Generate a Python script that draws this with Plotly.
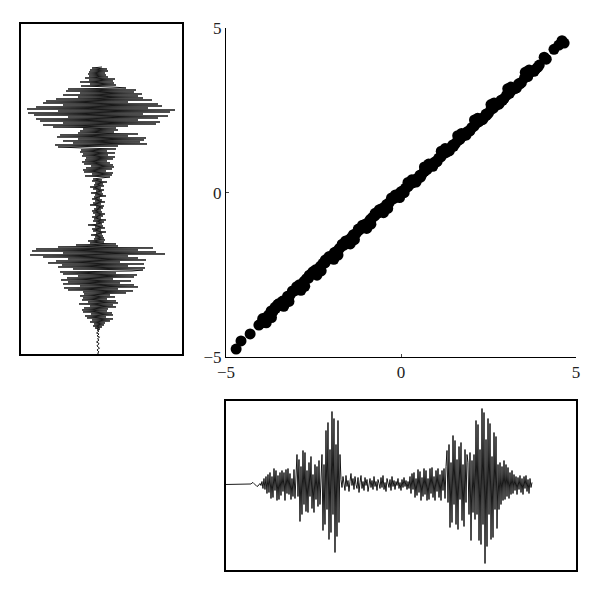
import plotly.graph_objects as go

# ---- scatter data (x vs y) ----
scatter_x = [-4.71, -4.57, -4.31, -4.06, -3.98, -3.92, -3.85, -3.78, -3.71, -3.66, -3.58, -3.52, -3.45, -3.38,
             -3.31, -3.24, -3.17, -3.10, -3.03, -2.96, -2.90, -2.84, -2.77, -2.70, -2.64, -2.57, -2.50, -2.44,
             -2.37, -2.30, -2.23, -2.17, -2.10, -2.03, -1.96, -1.90, -1.83, -1.76, -1.69, -1.63, -1.56, -1.49,
             -1.42, -1.36, -1.29, -1.22, -1.15, -1.09, -1.02, -0.95, -0.88, -0.82, -0.75, -0.68, -0.61, -0.55,
             -0.48, -0.41, -0.34, -0.28, -0.21, -0.14, -0.07, 0.00, 0.06, 0.13, 0.20, 0.27, 0.33, 0.40, 0.47,
             0.54, 0.60, 0.67, 0.74, 0.81, 0.87, 0.94, 1.01, 1.08, 1.14, 1.21, 1.28, 1.35, 1.41, 1.48, 1.55,
             1.62, 1.68, 1.75, 1.82, 1.89, 1.95, 2.02, 2.09, 2.16, 2.22, 2.29, 2.36, 2.43, 2.50, 2.57, 2.64,
             2.72, 2.79, 2.86, 2.94, 3.02, 3.10, 3.18, 3.27, 3.36, 3.44, 3.53, 3.62, 3.72, 3.83, 3.95, 4.09,
             4.15, 4.37, 4.51, 4.66, 4.60,
             -3.95, -3.70, -3.48, -3.20, -2.98, -2.75, -2.52, -2.28, -2.05, -1.80, -1.58, -1.33, -1.10, -0.86,
             -0.62, -0.38, -0.16, 0.09, 0.31, 0.56, 0.79, 1.03, 1.26, 1.50, 1.73, 1.97, 2.19, 2.44, 2.66, 2.90,
             3.14, 3.40, 3.66, 3.90,
             -3.85, -3.60, -3.35, -3.10, -2.86, -2.62, -2.40, -2.16, -1.92, -1.68, -1.45, -1.22, -0.98, -0.74,
             -0.50, -0.27, -0.04, 0.20, 0.43, 0.67, 0.91, 1.15, 1.38, 1.62, 1.86, 2.10, 2.33, 2.57, 2.80, 3.05,
             3.30, 3.55, 3.80]
scatter_y = [-4.76, -4.51, -4.30, -4.03, -3.96, -3.85, -3.80, -3.72, -3.60, -3.62, -3.52, -3.40, -3.43, -3.30,
             -3.28, -3.15, -3.12, -3.02, -2.98, -2.88, -2.80, -2.82, -2.70, -2.62, -2.60, -2.49, -2.45, -2.35,
             -2.33, -2.24, -2.15, -2.14, -2.03, -1.96, -1.93, -1.82, -1.78, -1.70, -1.62, -1.60, -1.49, -1.44,
             -1.37, -1.28, -1.25, -1.16, -1.10, -1.04, -0.96, -0.92, -0.82, -0.76, -0.71, -0.63, -0.57, -0.49,
             -0.45, -0.36, -0.31, -0.22, -0.18, -0.10, -0.05, 0.03, 0.06, 0.14, 0.18, 0.27, 0.30, 0.39, 0.43,
             0.53, 0.56, 0.65, 0.70, 0.79, 0.82, 0.91, 0.96, 1.05, 1.09, 1.18, 1.22, 1.32, 1.36, 1.45, 1.49,
             1.58, 1.62, 1.71, 1.75, 1.85, 1.88, 1.98, 2.02, 2.12, 2.15, 2.25, 2.28, 2.39, 2.42, 2.53, 2.57,
             2.66, 2.70, 2.81, 2.86, 2.97, 3.02, 3.13, 3.17, 3.31, 3.35, 3.49, 3.53, 3.68, 3.74, 3.88, 4.12,
             4.06, 4.36, 4.49, 4.55, 4.62,
             -3.83, -3.80, -3.37, -3.31, -2.86, -2.85, -2.41, -2.38, -1.94, -1.90, -1.47, -1.43, -0.99, -0.96,
             -0.52, -0.48, -0.07, 0.00, 0.39, 0.47, 0.87, 0.94, 1.34, 1.41, 1.80, 1.88, 2.26, 2.35, 2.73, 2.81,
             3.21, 3.31, 3.73, 3.81,
             -3.96, -3.49, -3.46, -2.99, -2.97, -2.51, -2.51, -2.05, -2.03, -1.57, -1.56, -1.11, -1.09, -0.63,
             -0.61, -0.16, -0.15, 0.31, 0.32, 0.78, 0.80, 1.26, 1.27, 1.73, 1.75, 2.21, 2.22, 2.68, 2.69, 3.16,
             3.19, 3.66, 3.69]

# ---- bottom waveform (amplitude per sample, left to right) ----
bottom_wave = (
    [0] * 25 +
    [0.5, 1.5, 2, 1, 0, -1, -2, -1.5, 0, 1, -1] +
    [3, -4, 6, -5, 8, -9, 10, -8, 12] +
    [-14, 8, -13, 16, -6, 14, -16, 9, -15, 12, -11, 14, -7, 12, -16, 15, -9, 16, -10, 11,
     -15, 6, -12, 15, -14, 8] +
    [30, -12, 25, -37, 18, -30, 34, -20, 32, -27] +
    [14, -28, 22, -12, 28, -24, 10, -28, 20, -15] +
    [18, -22, 24, -20, 15] +
    [30, -46, 20, -40, 54, -25, 62, -55, 35, -48, 73, -30, 66, -68, 40, -52, 64, -38, 30] +
    [5, -3, 8, 2, -6, 9, -2, 4, -7, 3, 11, -1, 6, -5, 8, 0, -4, 7, -8, 2,
     9, -4, 3, -6, 7, -1, 5, -7, 2, 6, -3, 4, -5, 8, -2, 3, -6, 5, 1, -4,
     7, -3, 9, -5, 2, -7, 6, 0, -3, 5, -6, 8, -2, 4, -5, 3, -1, 6, -4, 2,
     -6, 5, -3, 7, -2, 4, -5, 3, -4] +
    [8, -9, 11, -5, 12, -13, 6, -11, 15, -8, 13, -16, 7, -12, 16, -10, 14, -16, 6, -15,
     16, -9, 17, -13, 8, -16, 14, -7, 16, -13, 10, -16, 14, -6, 16, -14, 18] +
    [34, -18, 40, -43, 22, -38, 49, -20, 44, -40, 25, -45, 38, -15, 42, -36, 20, -42, 35, -18, 30] +
    [22, -30, 32, -56, 24, -28, 30, -35] +
    [64, -30, 60, -56, 35, -60, 76, -40, 72, -79, 45, -62, 66, -30, 61, -55, 28, -53, 52, -25,
     48, -44, 20] +
    [-25, 22, -20, 18, -16, 24, -15, 20, -12, 17, -14, 12, -10, 14] +
    [-9, 10, -6, 8, -10, 7, -5, 9, -8, 6, -10, 8, -4, 9, -7, 5, -9, 6, -3, 2]
)
bottom_t = list(range(len(bottom_wave)))

# ---- left waveform (amplitude per sample, bottom to top) ----
left_wave = (
    [0.5, -0.5, 1, 0, -1, 0.5, 1.5, 0, -1, -0.5, 1, 0.5, -1.5, 0, 1, -0.5, 0.5, 1.5, -1, 0,
     1, -1.5, 0.5, 1, -1, 2] +
    [-3, 4, -5, 6, -4, 7, -8] +
    [12, -6, 15, -11, 8, -13, 15, -7, 14, -15, 9] +
    [-16, 10, -14, 18, -8, 15, -19, 20, -10, 18, -16, 9, -15, 17, -18, 12, -14] +
    [28, -15, 35, -30, 20, -34, 40, -18, 36, -35, 22, -30, 33, -37, 15, -31, 36, -20, 39, -35,
     18, -38, 34] +
    [45, -25, 47, -40, 30, -36, 46, -50, 22, -42, 48, -30, 40] +
    [-55, 30, -68, 67, -35, 58, -66, 40, -62, 55, -40] +
    [20, -22, 18, -8, 6, -10, 7] +
    [-4, 6, -3, 5, -7, 4, -2, 8, -5, 3, -6, 7, -3, 5, -10, 4, -2, 6, -5, 8,
     -4, 3, -6, 5, -3, 7, -5, 4, -6, 3, -4, 5, -2, 6, -8, 3, -5, 7, -3, 4,
     -6, 2, -4, 8, -3, 5, -7, 4, -2, 6, -5, 3, -8, 6, -4, 5, -3, 9, -6, 4,
     -5, 3] +
    [12, -13, 14, -6, 15, -14, 8, -15, 14, -12, 16, -7, 15, -14, 12, -16, 9, -13, 15, -12] +
    [17, -16, 10, -15, 17, -18, 9, -17, 18, -15] +
    [-40, 20, -43, 49, -25, 42, -35, 46, -20, 48, -41, 30, -38, 40] +
    [-20, 16, -18, 20, -15, 18] +
    [-45, 30, -55, 58, -35, 62, -58, 40, -62, 60, -30, 70, -64, 45, -70, 72, -40, 77, -71, 50,
     -62, 64, -35, 60, -55, 30, -52, 54] +
    [-42, 45, -20, 40, -35, 44, -18, 36, -32, 38, -30, 28] +
    [15, -17, 18, -8, 16, -18, 15, -9, 17, -13] +
    [10, -9, 8, -10, 7, -9, 10, -8, 9, -6, 4]
)
left_t = list(range(len(left_wave)))

FONT = "Liberation Serif"
fig = go.Figure()

fig.add_trace(go.Scatter(x=scatter_x, y=scatter_y, mode="markers",
                         marker=dict(color="black", size=11, line=dict(width=0)),
                         xaxis="x", yaxis="y", showlegend=False, hoverinfo="skip"))

fig.add_trace(go.Scatter(x=left_wave, y=left_t, mode="lines",
                         line=dict(color="black", width=0.9),
                         xaxis="x2", yaxis="y2", showlegend=False, hoverinfo="skip"))

fig.add_trace(go.Scatter(x=bottom_t, y=bottom_wave, mode="lines",
                         line=dict(color="black", width=0.9),
                         xaxis="x3", yaxis="y3", showlegend=False, hoverinfo="skip"))

main_axis = dict(range=[-5, 5], tickvals=[-5, 0, 5], ticks="inside", ticklen=3,
                 showline=True, linecolor="black", linewidth=1, showgrid=False,
                 zeroline=False, tickfont=dict(family=FONT, size=17, color="#222"),
                 fixedrange=True, automargin=False)
box_axis = dict(showline=True, mirror=True, linecolor="black", linewidth=1.5,
                showgrid=False, zeroline=False, showticklabels=False, ticks="",
                fixedrange=True, automargin=False)

fig.update_layout(
    width=600, height=591, autosize=False,
    margin=dict(l=0, r=0, t=0, b=0, pad=0, autoexpand=False),
    paper_bgcolor="white", plot_bgcolor="white",
    xaxis=dict(domain=[0.3633, 0.9467], anchor="y", **main_axis),
    yaxis=dict(domain=[0.4095, 0.9657], anchor="x", **main_axis),
    xaxis2=dict(domain=[0.0217, 0.29], anchor="y2", range=[-77, 84], **box_axis),
    yaxis2=dict(domain=[0.4146, 0.9729], anchor="x2", range=[0, 330], **box_axis),
    xaxis3=dict(domain=[0.3633, 0.9467], anchor="y3", range=[0, 350], **box_axis),
    yaxis3=dict(domain=[0.0491, 0.335], anchor="x3", range=[-85.5, 83.5], **box_axis),
)

fig.write_html("out.html")
